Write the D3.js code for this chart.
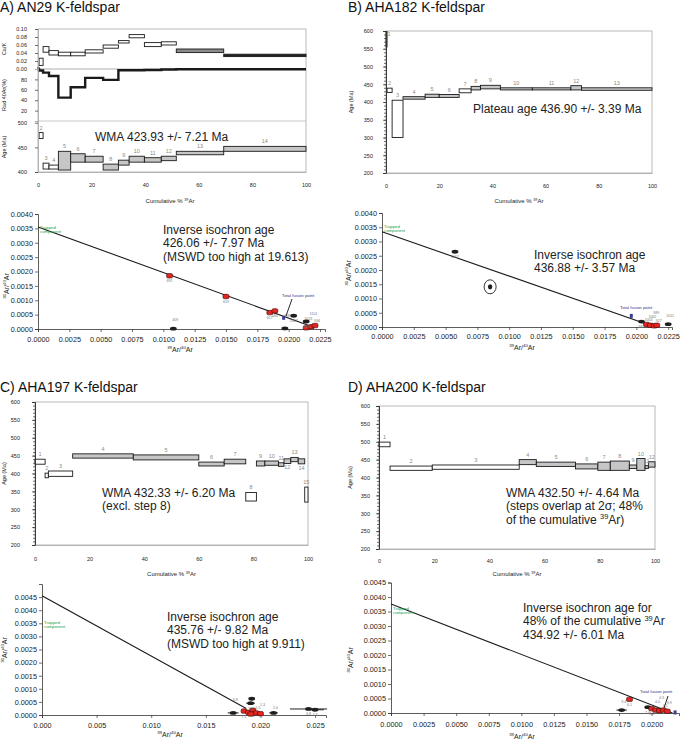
<!DOCTYPE html>
<html>
<head>
<meta charset="utf-8">
<script src="https://cdnjs.cloudflare.com/ajax/libs/d3/7.8.5/d3.min.js"></script>
<style>
  body { margin: 0; background: #fff; }
  svg { font-family: "Liberation Sans", Arial, sans-serif; }
</style>
</head>
<body>
<script>
// ---------- A) AN29 K-feldspar ----------
const aStepEdges = [0, 0.4, 1.9, 4.1, 7.6, 12.2, 17.6, 24.3, 30, 34, 39.7, 46, 51.6, 69.3, 100];
const aAgeLow    = [520, 468, 406, 406, 404, 420, 420, 404, 414, 420, 420, 423, 435, 442];
const aAgeHigh   = [540, 480, 418, 414, 442, 437, 432, 416, 424, 432, 429, 432, 442, 452];
const aUsed      = [0, 0, 0, 0, 1, 1, 1, 1, 1, 1, 1, 1, 1, 1];
const aCaKLow    = [0.000, 0.009, 0.042, 0.035, 0.033, 0.033, 0.040, 0.052, 0.065, 0.078, 0.056, 0.060, 0.041, 0.031];
const aCaKHigh   = [0.004, 0.027, 0.056, 0.046, 0.042, 0.042, 0.048, 0.060, 0.071, 0.086, 0.066, 0.068, 0.050, 0.037];
const aCaKShade  = ['w', 'w', 'w', 'w', 'w', 'w', 'w', 'w', 'w', 'w', 'w', 'w', 'g', 'd'];
const aRad40     = [99, 97, 93, 86.5, 45, 65, 83, 79, 97.5, 97.5, 98, 99, 99.5, 99.5];

const aIsoX     = [0.0105, 0.0150, 0.0185, 0.0189, 0.0214, 0.0218, 0.0221, 0.0108, 0.0197, 0.0204, 0.0214, 0.0196];
const aIsoY     = [0.00185, 0.00113, 0.00057, 0.00063, 0.00004, 0.00008, 0.00012, 0.00001, 0.00002, 0.00046, 0.00026, 0.00039];
const aIsoKind  = ['r', 'r', 'r', 'r', 'r', 'r', 'r', 'k', 'k', 'k', 'k', 'b'];
const aIsoLabel = ['691', '619', '617', '584', '1023', '1114', '934', '409', '408', '1067', '604', ''];
const aTrendX = [0, 0.0220];
const aTrendY = [0.00355, 0.00006];

// ---------- B) AHA182 K-feldspar ----------
const bStepEdges = [0, 0.4, 2.3, 6.4, 14.7, 20, 27.5, 32, 35.5, 43, 55, 69.5, 73.5, 100];
const bAgeLow    = [555, 427, 300, 408, 413, 413, 426, 434, 437, 434, 434, 434, 433];
const bAgeHigh   = [620, 439, 405, 415, 422, 421, 437, 444, 447, 440, 440, 446, 440];
const bUsed      = [0, 0, 0, 1, 1, 1, 0, 1, 1, 1, 1, 1, 1];

const bIsoX     = [0.00574, 0.0085, 0.0204, 0.0208, 0.0211, 0.0214, 0.0216, 0.0225, 0.0196];
const bIsoY     = [0.00264, 0.00141, 0.00019, 0.00009, 0.00006, 0.00004, 0.00006, 0.0001, 0.00039];
const bIsoKind  = ['k', 'c', 'k', 'r', 'r', 'r', 'r', 'k', 'b'];
const bIsoLabel = ['1067', '', '987', '1004', '1002', '989', '927', '1011', ''];
const bTrendX = [0, 0.0213];
const bTrendY = [0.00334, 0.00003];

// ---------- C) AHA197 K-feldspar ----------
const cStepEdges = [0, 3.7, 4.9, 13.8, 36, 60, 69.3, 77.2, 81.1, 84.2, 89.2, 91.2, 93.7, 96.4, 98.8, 100];
const cAgeLow    = [426, 388, 392, 443, 438, 421, 427, 323, 421, 423, 420, 428, 433, 427, 320];
const cAgeHigh   = [440, 401, 407, 455, 452, 432, 440, 347, 435, 435, 430, 441, 445, 441, 362];
const cUsed      = [0, 0, 0, 1, 1, 1, 1, 0, 1, 1, 1, 1, 1, 1, 0];
const cLabelBelow = [12, 14];

const cIsoX     = [0.0185, 0.0189, 0.0193, 0.0196, 0.0200, 0.0191, 0.0192, 0.0191, 0.0175, 0.0212, 0.0244, 0.0250];
const cIsoY     = [0.00015, 0.0001, 0.00018, 0.00008, 0.00005, 0.00004, 0.00062, 0.00045, 0.00008, 0.00008, 0.00023, 0.0002];
const cIsoKind  = ['r', 'r', 'r', 'r', 'r', 'r', 'k', 'k', 'k', 'k', 'k', 'k'];
const cIsoXErr  = [0, 0, 0, 0, 0, 0, 0, 0.0004, 0.0005, 0.0004, 0.0017, 0.0008];
const cIsoLabel = ['7.1', '7.3', '7.2', '5.5', '1.3', '', '2', '3.1', '3.8', '2.6', '4.8', '4.3'];
const cTrendX = [0, 0.0187];
const cTrendY = [0.00455, 0.00025];

// ---------- D) AHA200 K-feldspar ----------
const dStepEdges = [0, 4, 19.3, 50.8, 57, 71.2, 79.3, 83.8, 90.7, 93.4, 96.4, 97.6, 100];
const dAgeLow    = [486, 420, 423, 436, 431, 424, 420, 420, 425, 420, 425, 429];
const dAgeHigh   = [499, 432, 435, 450, 443, 438, 443, 446, 435, 453, 433, 444];
const dUsed      = [0, 0, 0, 1, 1, 1, 1, 1, 1, 1, 1, 1];

const dIsoX     = [0.0183, 0.0177, 0.0197, 0.0200, 0.0203, 0.0206, 0.0209, 0.0212, 0.0218];
const dIsoY     = [0.00047, 0.0001, 0.0002, 0.00015, 0.0001, 0.00008, 0.0001, 0.00006, 0.00002];
const dIsoKind  = ['r', 'k', 'k', 'r', 'r', 'r', 'r', 'r', 'b'];
const dIsoXErr  = [0, 0.0004, 0, 0, 0, 0, 0, 0, 0];
const dIsoLabel = ['6.1', '3.4', '7.6', '4.2', '4.0', '4.3', '4.1', '3.9', ''];
const dTrendX = [0, 0.0216];
const dTrendY = [0.00376, 0.0];

const spectrumTicks = [200, 250, 300, 350, 400, 450, 500, 550, 600];
const cumTicks = [0, 20, 40, 60, 80, 100];

const svg = d3.select('body').append('svg')
  .attr('width', 685)
  .attr('height', 739);

// text with superscript parts: segs = [[text, isSup], ...]
function richText(g, x, y, segs, size, opts = {}) {
  const t = g.append('text')
    .attr('x', x).attr('y', y)
    .attr('font-size', size)
    .attr('fill', opts.fill || '#222')
    .attr('text-anchor', opts.anchor || 'start');
  if (opts.rotate) t.attr('transform', `rotate(-90,${x},${y})`);
  let up = false;
  segs.forEach(([s, sup]) => {
    const ts = t.append('tspan').text(s);
    if (sup && !up) { ts.attr('dy', -size * 0.4).attr('font-size', size * 0.62); up = true; }
    else if (sup) { ts.attr('font-size', size * 0.62); }
    else if (up) { ts.attr('dy', size * 0.4); up = false; }
  });
  return t;
}

function styleAxis(sel, fs) {
  sel.attr('font-family', null);
  sel.selectAll('text').attr('font-size', fs).attr('fill', '#222');
  sel.selectAll('line').attr('stroke', '#333').attr('stroke-width', 0.7);
  sel.select('.domain').attr('stroke', '#333').attr('stroke-width', 0.8);
}

function title(x, y, s) {
  svg.append('text').attr('x', x).attr('y', y)
    .attr('font-size', 14).attr('fill', '#111').text(s);
}

// age spectrum boxes
function drawSteps(g, x, y, edges, low, high, used, p) {
  const steps = low.map((lo, i) => ({ n: i + 1, x0: edges[i], x1: edges[i + 1], lo, hi: high[i], used: used[i] }));
  const id = 'clip' + p.id;
  svg.append('clipPath').attr('id', id).append('rect')
    .attr('x', p.left - 1).attr('y', p.ageTop)
    .attr('width', p.right - p.left + 2).attr('height', p.bottom - p.ageTop);
  g.append('g').attr('clip-path', `url(#${id})`)
    .selectAll('rect').data(steps).join('rect')
    .attr('x', d => x(d.x0))
    .attr('width', d => Math.max(1, x(d.x1) - x(d.x0)))
    .attr('y', d => y(d.hi))
    .attr('height', d => y(d.lo) - y(d.hi))
    .attr('fill', d => d.used ? '#c6c6c6' : '#fff')
    .attr('stroke', '#1a1a1a')
    .attr('stroke-width', 0.9);
  const below = p.below || [];
  g.selectAll('text.step').data(steps.filter(d => d.hi <= y.domain()[1] || p.topLabel))
    .join('text').attr('class', 'step')
    .attr('x', d => d.hi > y.domain()[1] ? x(d.x1) + 2 : (x(d.x0) + x(d.x1)) / 2)
    .attr('y', d => {
      if (d.hi > y.domain()[1]) return p.ageTop + 5;
      return below.includes(d.n) ? y(d.lo) + 6 : y(d.hi) - 3;
    })
    .attr('text-anchor', 'middle')
    .attr('font-size', 5.5).attr('fill', '#8a8a8a')
    .text(d => d.n);
}

function spectrumPanel(p) {
  const g = svg.append('g');
  const x = d3.scaleLinear([0, 100], [p.left, p.right]);
  const y = d3.scaleLinear(p.ageDomain, [p.bottom, p.ageTop]);

  g.append('rect')
    .attr('x', p.left).attr('y', p.top)
    .attr('width', p.right - p.left).attr('height', p.bottom - p.top)
    .attr('fill', 'none').attr('stroke', '#a8a8a8').attr('stroke-width', 0.8);

  drawSteps(g, x, y, p.edges, p.low, p.high, p.used, p);

  // minor ticks then major ticks
  const minor = g.append('g').attr('transform', `translate(${p.left},0)`)
    .call(d3.axisLeft(y).tickValues(d3.range(p.ageDomain[0], p.ageDomain[1] + 0.1, 10)).tickSize(2).tickFormat(''));
  styleAxis(minor, 5.5);
  const ay = g.append('g').attr('transform', `translate(${p.left},0)`)
    .call(d3.axisLeft(y).tickValues(p.ticks).tickSize(3).tickPadding(p.yPad || 8));
  styleAxis(ay, 5.5);

  const ax = g.append('g').attr('transform', `translate(0,${p.bottom})`)
    .call(d3.axisBottom(x).tickValues(cumTicks).tickSize(0).tickPadding(p.xPad || 10));
  styleAxis(ax, 5.5);
  ax.select('.domain').attr('stroke', '#a8a8a8');

  richText(g, p.yTitleX, (p.ageTop + p.bottom) / 2, [['Age (Ma)', false]], 5.5, { anchor: 'middle', rotate: true });
  richText(g, (p.left + p.right) / 2, p.cumY, [['Cumulative % ', false], ['39', true], ['Ar', false]], 6, { anchor: 'middle' });
  return { g, x, y };
}

function isochronPanel(p) {
  const g = svg.append('g');
  const x = d3.scaleLinear(p.xDomain, [p.left, p.right]);
  const y = d3.scaleLinear(p.yDomain, [p.bottom, p.top]);

  const ax = g.append('g').attr('transform', `translate(0,${p.bottom})`)
    .call(d3.axisBottom(x).tickValues(p.xTicks).tickFormat(d3.format(p.xFmt)).tickSize(3).tickPadding(p.xPad));
  styleAxis(ax, 7.3);
  const ay = g.append('g').attr('transform', `translate(${p.left},0)`)
    .call(d3.axisLeft(y).tickValues(p.yTicks).tickFormat(d3.format('.4f')).tickSize(3).tickPadding(2));
  styleAxis(ay, 7.3);

  // isochron trend
  g.append('path')
    .datum(p.trendX.map((v, i) => [v, p.trendY[i]]))
    .attr('d', d3.line().x(d => x(d[0])).y(d => y(d[1])))
    .attr('fill', 'none').attr('stroke', '#1a1a1a').attr('stroke-width', 1.1);

  const pts = p.ptX.map((v, i) => ({ i, x: v, y: p.ptY[i], k: p.kind[i], lab: p.labels[i], e: p.xErr ? p.xErr[i] : 0 }));

  // horizontal error bars
  g.selectAll('line.err').data(pts.filter(d => d.e > 0)).join('line')
    .attr('x1', d => x(d.x - d.e)).attr('x2', d => x(d.x + d.e))
    .attr('y1', d => y(d.y)).attr('y2', d => y(d.y))
    .attr('stroke', '#222').attr('stroke-width', 1);

  const mk = g.selectAll('g.pt').data(pts).join('g')
    .attr('transform', d => `translate(${x(d.x)},${y(d.y)})`);
  mk.filter(d => d.k === 'r').append('rect')
    .attr('x', -3).attr('y', -2.2).attr('width', 6).attr('height', 4.4).attr('rx', 1.5)
    .attr('fill', '#e3261f').attr('stroke', '#3a0a0a').attr('stroke-width', 0.6);
  mk.filter(d => d.k === 'k').append('ellipse')
    .attr('rx', 3.4).attr('ry', 1.9).attr('fill', '#1e1e1e');
  mk.filter(d => d.k === 'c').append('ellipse')
    .attr('rx', 2.2).attr('ry', 2.6).attr('fill', '#1e1e1e');
  mk.filter(d => d.k === 'c').append('ellipse')
    .attr('rx', 6).attr('ry', 7).attr('fill', 'none').attr('stroke', '#1e1e1e').attr('stroke-width', 0.9);
  mk.filter(d => d.k === 'b').append('rect')
    .attr('x', -1.5).attr('y', -2).attr('width', 3).attr('height', 4)
    .attr('fill', '#3a3f8f');
  // point numbers: stacked above the marker when it sits on the x axis
  mk.append('text')
    .attr('x', d => d.y < 0.00015 ? 2 : 0)
    .attr('y', d => d.y < 0.00015 ? -3.5 - (d.i % 3) * 4 : 6.5)
    .attr('text-anchor', 'middle')
    .attr('font-size', 3.6).attr('fill', '#777')
    .text(d => d.lab);

  // trapped component
  const tx = x(0) + 2, ty = y(p.trendY[0]) + p.trapDy;
  g.append('text').attr('x', tx).attr('y', ty).attr('font-size', 4.3).attr('fill', '#1aa04a').text('Trapped');
  g.append('text').attr('x', tx).attr('y', ty + 4.5).attr('font-size', 4.3).attr('fill', '#1aa04a').text('component');

  // axis titles
  richText(g, p.xTitle[0], p.xTitle[1], [['39', true], ['Ar/', false], ['40', true], ['Ar', false]], 7, { anchor: 'middle' });
  richText(g, p.yTitle[0], p.yTitle[1], [['36', true], ['Ar/', false], ['40', true], ['Ar', false]], 7, { anchor: 'middle', rotate: true });
  return { g, x, y };
}

function fusionLabel(g, tx, ty, lx1, ly1, lx2, ly2) {
  g.append('text').attr('x', tx).attr('y', ty).attr('font-size', 4.3).attr('fill', '#2b3590').text('Total fusion point');
  if (lx1 != null) {
    g.append('line').attr('x1', lx1).attr('y1', ly1).attr('x2', lx2).attr('y2', ly2)
      .attr('stroke', '#111').attr('stroke-width', 0.9);
  }
}

function note(g, x, y, lines, size) {
  lines.forEach((segs, i) => richText(g, x, y + i * 13.3, segs, size));
}

// ====================== PANEL A ======================
title(0, 12, 'A) AN29 K-feldspar');
{
  const left = 38, right = 306, top = 29, bottom = 172;
  const g = svg.append('g');
  const x = d3.scaleLinear([0, 100], [left, right]);
  const yCaK = d3.scaleLinear([0, 0.1], [69, 29]);
  const yRad = d3.scaleLinear([0, 100], [121, 69]);
  const yAge = d3.scaleLinear([400, 503.5], [172, 121]);

  g.append('rect').attr('x', left).attr('y', top).attr('width', right - left).attr('height', bottom - top)
    .attr('fill', 'none').attr('stroke', '#a8a8a8').attr('stroke-width', 0.8);
  g.append('line').attr('x1', left).attr('x2', right).attr('y1', 69).attr('y2', 69).attr('stroke', '#999').attr('stroke-width', 0.8);
  g.append('line').attr('x1', left).attr('x2', right).attr('y1', 121).attr('y2', 121).attr('stroke', '#bbb').attr('stroke-width', 0.8);

  // Ca/K boxes
  const cak = aCaKLow.map((lo, i) => ({ x0: aStepEdges[i], x1: aStepEdges[i + 1], lo, hi: aCaKHigh[i], s: aCaKShade[i] }));
  g.selectAll('rect.cak').data(cak).join('rect').attr('class', 'cak')
    .attr('x', d => x(d.x0)).attr('width', d => Math.max(1, x(d.x1) - x(d.x0)))
    .attr('y', d => yCaK(d.hi)).attr('height', d => yCaK(d.lo) - yCaK(d.hi))
    .attr('fill', d => d.s === 'd' ? '#222' : d.s === 'g' ? '#8a8a8a' : '#fff')
    .attr('stroke', '#1a1a1a').attr('stroke-width', 0.9);

  // radiogenic 40Ar step line
  const radPts = [];
  aRad40.forEach((v, i) => { radPts.push([aStepEdges[i], v]); radPts.push([aStepEdges[i + 1], v]); });
  g.append('path').datum(radPts)
    .attr('d', d3.line().x(d => x(d[0])).y(d => yRad(d[1])))
    .attr('fill', 'none').attr('stroke', '#1a1a1a').attr('stroke-width', 2.4);

  drawSteps(g, x, yAge, aStepEdges, aAgeLow, aAgeHigh, aUsed, { id: 'A', left, right, ageTop: 121, bottom });

  const a1 = g.append('g').attr('transform', `translate(${left},0)`)
    .call(d3.axisLeft(yCaK).tickValues([0.02, 0.04, 0.06, 0.08, 0.1]).tickFormat(d3.format('.2f')).tickSize(3).tickPadding(8));
  styleAxis(a1, 5.5);
  const a2 = g.append('g').attr('transform', `translate(${left},0)`)
    .call(d3.axisLeft(yRad).tickValues([20, 40, 60, 80]).tickSize(3).tickPadding(8));
  styleAxis(a2, 5.5);
  const a3 = g.append('g').attr('transform', `translate(${left},0)`)
    .call(d3.axisLeft(yAge).tickValues([400, 450, 500]).tickSize(3).tickPadding(8));
  styleAxis(a3, 5.5);
  g.append('text').attr('x', left - 11).attr('y', 71).attr('text-anchor', 'end').attr('font-size', 5.5).attr('fill', '#222').text('0.00');
  [a1, a2, a3].forEach(a => a.select('.domain').attr('stroke', '#a8a8a8'));

  const ax = g.append('g').attr('transform', `translate(0,${bottom})`)
    .call(d3.axisBottom(x).tickValues(cumTicks).tickSize(0).tickPadding(11));
  styleAxis(ax, 5.5);
  ax.select('.domain').attr('stroke', '#a8a8a8');

  richText(g, 6, 49, [['Ca/K', false]], 5.5, { anchor: 'middle', rotate: true });
  richText(g, 6, 95, [['Rad 40Ar(%)', false]], 5.5, { anchor: 'middle', rotate: true });
  richText(g, 6, 147, [['Age (Ma)', false]], 5.5, { anchor: 'middle', rotate: true });
  richText(g, 170, 203, [['Cumulative % ', false], ['39', true], ['Ar', false]], 6, { anchor: 'middle' });
  note(g, 95, 141, [[['WMA 423.93 +/- 7.21 Ma', false]]], 12);
}
{
  const r = isochronPanel({
    left: 38, right: 325, top: 214, bottom: 329,
    xDomain: [0, 0.0229], yDomain: [0, 0.004],
    xTicks: d3.range(0, 0.02251, 0.0025), yTicks: d3.range(0, 0.00401, 0.0005),
    xFmt: '.4f', xPad: 5,
    ptX: aIsoX, ptY: aIsoY, kind: aIsoKind, labels: aIsoLabel,
    trendX: aTrendX, trendY: aTrendY, trapDy: 2,
    xTitle: [180, 352], yTitle: [9, 286]
  });
  fusionLabel(r.g, 282, 297, 292, 299, 286, 316);
  note(r.g, 163, 234, [[['Inverse isochron age', false]], [['426.06 +/- 7.97 Ma', false]], [['(MSWD too high at 19.613)', false]]], 12);
}

// ====================== PANEL B ======================
title(348, 12, 'B) AHA182 K-feldspar');
{
  const r = spectrumPanel({
    id: 'B', left: 386, right: 652, top: 31, ageTop: 31, bottom: 173,
    ageDomain: [200, 600], ticks: spectrumTicks,
    edges: bStepEdges, low: bAgeLow, high: bAgeHigh, used: bUsed, topLabel: true,
    yTitleX: 353, cumY: 203, xPad: 11, yPad: 10
  });
  note(r.g, 473, 113, [[['Plateau age 436.90 +/- 3.39 Ma', false]]], 12);
}
{
  const r = isochronPanel({
    left: 382, right: 672, top: 213, bottom: 327,
    xDomain: [0, 0.0228], yDomain: [0, 0.004],
    xTicks: d3.range(0, 0.02251, 0.0025), yTicks: d3.range(0, 0.00401, 0.0005),
    xFmt: '.4f', xPad: 4,
    ptX: bIsoX, ptY: bIsoY, kind: bIsoKind, labels: bIsoLabel,
    trendX: bTrendX, trendY: bTrendY, trapDy: -4,
    xTitle: [522, 350], yTitle: [351, 273]
  });
  fusionLabel(r.g, 620, 309);
  note(r.g, 534, 259, [[['Inverse isochron age', false]], [['436.88 +/- 3.57 Ma', false]]], 12);
}

// ====================== PANEL C ======================
title(0, 392, 'C) AHA197 K-feldspar');
{
  const r = spectrumPanel({
    id: 'C', left: 35, right: 308, top: 402, ageTop: 402, bottom: 545,
    ageDomain: [200, 600], ticks: spectrumTicks,
    edges: cStepEdges, low: cAgeLow, high: cAgeHigh, used: cUsed, below: cLabelBelow,
    yTitleX: 6, cumY: 576, xPad: 12, yPad: 12
  });
  note(r.g, 102, 497, [[['WMA 432.33 +/- 6.20 Ma', false]], [['(excl. step 8)', false]]], 12);
}
{
  const r = isochronPanel({
    left: 42, right: 326, top: 584, bottom: 715,
    xDomain: [0, 0.026], yDomain: [0, 0.005],
    xTicks: [0, 0.005, 0.01, 0.015, 0.02, 0.025], yTicks: d3.range(0, 0.00451, 0.0005),
    xFmt: '.3f', xPad: 5,
    ptX: cIsoX, ptY: cIsoY, kind: cIsoKind, labels: cIsoLabel, xErr: cIsoXErr,
    trendX: cTrendX, trendY: cTrendY, trapDy: 28,
    xTitle: [170, 737], yTitle: [7, 650]
  });
  note(r.g, 167, 621, [[['Inverse isochron age', false]], [['435.76 +/- 9.82 Ma', false]], [['(MSWD too high at 9.911)', false]]], 12);
}

// ====================== PANEL D ======================
title(348, 392, 'D) AHA200 K-feldspar');
{
  const r = spectrumPanel({
    id: 'D', left: 379, right: 655, top: 406, ageTop: 406, bottom: 549,
    ageDomain: [200, 600], ticks: spectrumTicks,
    edges: dStepEdges, low: dAgeLow, high: dAgeHigh, used: dUsed,
    yTitleX: 352, cumY: 576, xPad: 10, yPad: 6
  });
  note(r.g, 506, 497, [
    [['WMA 432.50 +/- 4.64 Ma', false]],
    [['(steps overlap at 2σ; 48%', false]],
    [['of the cumulative ', false], ['39', true], ['Ar)', false]]
  ], 12);
}
{
  const r = isochronPanel({
    left: 391, right: 679, top: 582.5, bottom: 713,
    xDomain: [0, 0.0221], yDomain: [0, 0.0045],
    xTicks: d3.range(0, 0.02001, 0.0025), yTicks: d3.range(0, 0.00451, 0.0005),
    xFmt: '.4f', xPad: 6,
    ptX: dIsoX, ptY: dIsoY, kind: dIsoKind, labels: dIsoLabel, xErr: dIsoXErr,
    trendX: dTrendX, trendY: dTrendY, trapDy: 6,
    xTitle: [522, 739], yTitle: [353, 660]
  });
  fusionLabel(r.g, 640, 693, 668, 696, 664, 708);
  note(r.g, 523, 612, [
    [['Inverse isochron age for', false]],
    [['48% of the cumulative ', false], ['39', true], ['Ar', false]],
    [['434.92 +/- 6.01 Ma', false]]
  ], 12);
}
</script>
</body>
</html>
